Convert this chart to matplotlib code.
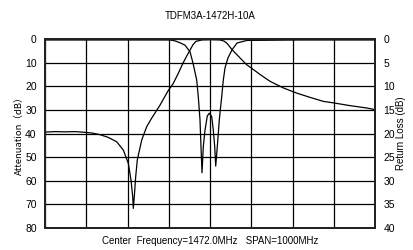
import matplotlib
matplotlib.use("Agg")
import matplotlib.pyplot as plt
import numpy as np

title = "TDFM3A-1472H-10A"
xlabel = "Center  Frequency=1472.0MHz   SPAN=1000MHz"
ylabel_left = "Attenuation（dB）"
ylabel_right = "Return Loss (dB)"

f_start, f_stop = 972.0, 1972.0
left_ticks = [0, 10, 20, 30, 40, 50, 60, 70, 80]
right_ticks = [0, 5, 10, 15, 20, 25, 30, 35, 40]

att_freq = [972.0, 1002.3, 1032.6, 1062.9, 1093.2, 1114.4, 1138.7, 1162.9, 1189.3, 1209.3,
            1224.4, 1232.6, 1237.8, 1239.6, 1242.6, 1246.8, 1251.7, 1265.0, 1280.2, 1295.3,
            1320.5, 1344.7, 1359.9, 1375.0, 1390.2, 1402.3, 1411.4, 1420.5, 1429.6, 1447.7,
            1478.1, 1502.3, 1514.5, 1523.5, 1538.7, 1562.9, 1583.2, 1599.3, 1623.5, 1653.8,
            1694.1, 1734.8, 1775.0, 1815.3, 1848.7, 1896.2, 1946.8, 1972.0]
att_db = [39.4, 39.2, 39.3, 39.2, 39.5, 39.8, 40.5, 41.6, 43.5, 47.0,
          52.6, 59.7, 66.8, 71.7, 66.8, 58.3, 51.2, 42.8, 37.1, 33.5,
          28.0, 22.0, 19.0, 14.8, 10.2, 7.0, 4.7, 2.4, 1.0, 0.4,
          0.3, 0.4, 0.9, 1.8, 4.5, 8.0, 10.9, 12.5, 15.0, 17.9,
          20.7, 22.9, 24.7, 26.4, 27.1, 28.2, 29.2, 29.9]

rl_freq = [972.0, 1138.7, 1290.2, 1350.8, 1366.0, 1381.1, 1396.2, 1411.4, 1420.5, 1431.7,
           1436.5, 1441.7, 1444.7, 1447.8, 1451.7, 1456.8, 1463.8, 1469.9, 1477.1, 1482.0,
           1486.3, 1489.3, 1494.1, 1500.2, 1507.5, 1512.3, 1517.5, 1526.5, 1538.7, 1553.8,
           1584.1, 1744.7, 1972.0]
rl_db = [0.2, 0.2, 0.2, 0.2, 0.4, 0.8, 1.3, 2.7, 5.1, 8.7,
         12.2, 17.1, 22.8, 28.3, 22.8, 19.3, 16.3, 15.7, 16.4, 19.3,
         22.8, 26.9, 22.8, 17.1, 12.2, 8.7, 6.1, 4.0, 2.3, 0.85,
         0.3, 0.2, 0.2]

fig = plt.figure(figsize=(4.13, 2.5), dpi=100)
ax = fig.add_axes([45/413, 22/250, 330/413, 189/250])
ax2 = ax.twinx()

ax.plot(att_freq, att_db, color="black", lw=0.9)
ax2.plot(rl_freq, rl_db, color="black", lw=0.9)

ax.set_xlim(f_start, f_stop)
ax.set_ylim(80, 0)
ax2.set_ylim(40, 0)
ax.set_xticks(np.linspace(f_start, f_stop, 9))
ax.set_xticklabels([])
ax.set_yticks(left_ticks)
ax2.set_yticks(right_ticks)
ax.grid(True, color="black", lw=0.9)
ax.tick_params(axis="both", length=0, labelsize=7.5, pad=6)
ax2.tick_params(axis="both", length=0, labelsize=7.5, pad=6)
for a in (ax, ax2):
    for sp in a.spines.values():
        sp.set_linewidth(1.3)
        sp.set_color("#222222")
for lab in ax.get_yticklabels() + ax2.get_yticklabels():
    lab.set_family("Liberation Sans")

fig.text(210/413, 1 - 16/250, title, ha="center", va="center", fontsize=7,
         family="Liberation Sans")
fig.text(210/413, 1 - 241/250, xlabel, ha="center", va="center", fontsize=7,
         family="Liberation Sans")
fig.text(19/413, 1 - 133/250, ylabel_left, ha="center", va="center", rotation=90,
         fontsize=6.8, family=["Noto Sans CJK JP", "DejaVu Sans"])
fig.text(401/413, 1 - 133/250, ylabel_right, ha="center", va="center", rotation=90,
         fontsize=7, family="Liberation Sans")

fig.savefig("out.png", dpi=100)
